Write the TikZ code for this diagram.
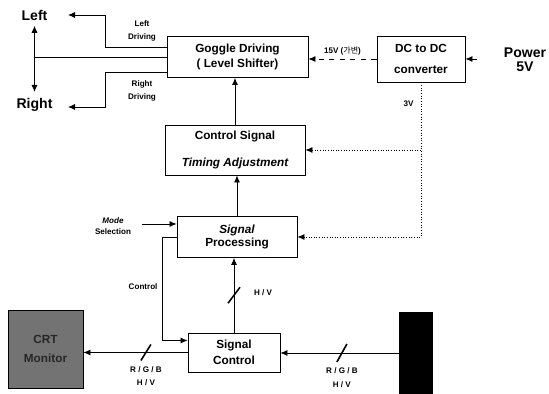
\documentclass[tikz,border=0pt]{standalone}
\usepackage{fontspec}
\setmainfont{Liberation Sans}
\newfontfamily\krfont{Noto Sans CJK KR}
\usetikzlibrary{arrows.meta, positioning, calc}

\begin{document}
\begin{tikzpicture}[
    x=0.02cm, y=-0.02cm,
    blk/.style={rectangle, draw, line width=0.5pt, align=center, inner sep=1pt,
        font=\fontsize{6.7}{9}\selectfont\bfseries},
    arr/.style={-{Latex[length=4pt, width=3.5pt]}, line width=0.5pt},
    feed/.style={arr, densely dotted},
    supply/.style={arr, dashed},
    slash/.style={line width=0.9pt},
    lbl/.style={font=\fontsize{4.6}{5.5}\selectfont\bfseries, align=center, inner sep=1pt},
    big/.style={font=\fontsize{8}{9.5}\selectfont\bfseries, align=center, inner sep=1pt}
]
    \useasboundingbox[fill=white] (0,0) rectangle (549,394);

    % main blocks
    \node[blk, minimum width=2.82cm, minimum height=0.82cm] (goggle) at (237.5,57) {Goggle Driving\\( Level Shifter)};
    \node[blk, minimum width=1.76cm, minimum height=0.92cm] (dc) at (421,59) {DC to DC\\[3pt]converter};
    \node[blk, minimum width=2.8cm, minimum height=1cm] (timing) at (235,150) {Control Signal\\[6pt]{\itshape Timing Adjustment}};
    \node[blk, minimum width=2.4cm, minimum height=0.82cm] (proc) at (237,237) {{\itshape Signal}\\[-1.5pt]Processing};
    \node[blk, minimum width=1.84cm, minimum height=0.78cm] (sigctrl) at (234,352.5) {Signal\\Control};
    \node[blk, minimum width=1.5cm, minimum height=1.56cm, fill=black!55, text=black!85] (crt) at (45.5,349) {CRT\\[2pt]Monitor};
    \node[rectangle, fill=black, minimum width=0.68cm, minimum height=1.64cm, inner sep=0pt] (src) at (416,353) {};

    % outer texts
    \node[big] (left) at (34.5,15) {Left};
    \node[big] (right) at (34.5,105) {Right};
    \node[big] (power) at (525,60) {Power\\[-1.5pt]5V};
    \node[lbl] (ldrv) at (142,31) {Left\\[2pt]Driving};
    \node[lbl] (rdrv) at (142,91) {Right\\[2pt]Driving};
    \node[lbl] (mode) at (113,226) {{\itshape Mode}\\[1pt]Selection};

    % goggle outputs
    \coordinate (ltip) at (68,15);
    \coordinate (rtip) at (68,107);
    \draw[{Latex[length=4pt, width=3.5pt]}-{Latex[length=4pt, width=3.5pt]}, line width=0.5pt]
        ([yshift=-2pt]left.south) -- ([yshift=2.5pt]right.north);
    \draw[line width=0.5pt] (goggle.west) -- (goggle.west -| left.south);
    \draw[arr] ([yshift=0.2cm]goggle.west) -- ++(-61,0) |- (ltip);
    \draw[arr] ([yshift=-0.3cm]goggle.west) -- ++(-61,0) |- (rtip);

    % power
    \draw[arr] ([xshift=-0.5cm]power.west |- dc.east) -- (dc.east);
    \draw[supply] (dc.west) -- node[lbl, above=1pt] (v15) {15V ({\krfont\mdseries 가변})} (dc.west -| goggle.east);
    \draw[feed] (dc.south) |- (proc.east);
    \draw[feed] (dc.south |- timing.east) -- (timing.east);
    \node[lbl, anchor=east] (v3) at ([xshift=-3pt, yshift=-0.42cm]dc.south) {3V};

    % signal chain
    \draw[arr] (timing.north) -- (timing.north |- goggle.south);
    \draw[arr] (proc.north) -- (proc.north |- timing.south);
    \draw[arr] (sigctrl.north) -- coordinate[pos=0.5] (hvbus) (sigctrl.north |- proc.south);
    \draw[slash] ($(hvbus)+(-6,8)$) -- ($(hvbus)+(6,-8)$);
    \node[lbl, anchor=west] (hv) at ([xshift=0.36cm, yshift=0.06cm]hvbus) {H / V};

    % mode and control
    \coordinate (modein) at ([yshift=0.26cm]proc.west);
    \draw[arr] ([xshift=-0.7cm]modein) -- (modein);
    \draw[arr] (proc.west) -- ++(-14,0) coordinate (ctlturn) |- ([yshift=0.24cm]sigctrl.west);
    \node[lbl, anchor=east] (ctl) at ($(ctlturn)+(-3,50)$) {Control};

    % video buses
    \draw[arr] (sigctrl.west) -- coordinate[pos=0.4] (crtbus) (sigctrl.west -| crt.east);
    \draw[slash] ($(crtbus)+(-5,8)$) -- ($(crtbus)+(5,-8)$);
    \node[lbl, below=0.24cm of crtbus] (rgbl) {R / G / B\\[2pt]H / V};
    \draw[arr] (src.west) -- coordinate[pos=0.48] (srcbus) (src.west -| sigctrl.east);
    \draw[slash] ($(srcbus)+(-5,9)$) -- ($(srcbus)+(5,-9)$);
    \node[lbl, below=0.26cm of srcbus] (rgbr) {R / G / B\\[2pt]H / V};
\end{tikzpicture}
\end{document}
